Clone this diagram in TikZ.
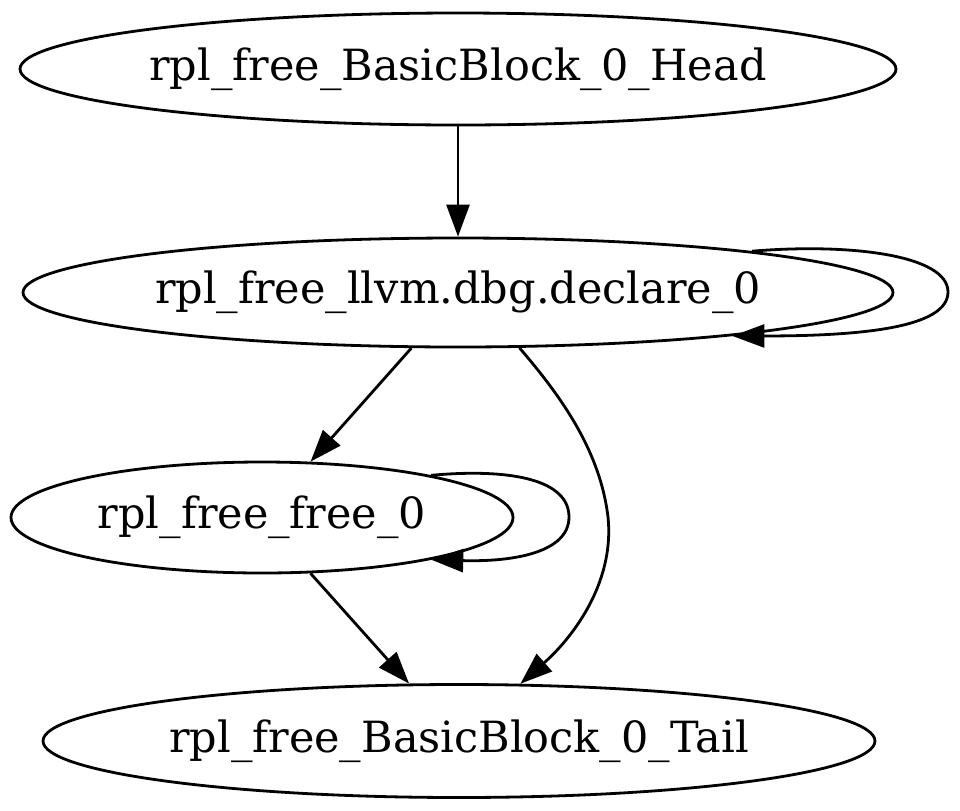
\documentclass[tikz,border=0pt]{standalone}
\usepackage{fontspec}
\setmainfont{DejaVu Serif}
\usetikzlibrary{shapes.geometric,arrows.meta}
\tikzset{
  gnode/.style={draw, ellipse, line width=1.4pt, inner sep=0pt, font=\fontsize{21.5pt}{26pt}\selectfont},
  gedge/.style={line width=1.4pt, -{Triangle[length=16pt,width=11.5pt]}}
}
\begin{document}
\begin{tikzpicture}[x=0.5pt,y=-0.5pt]
\useasboundingbox (0,0) rectangle (960,810);
\node[gnode, minimum width=438pt, minimum height=56pt] (head) at (458,69) {rpl\_free\_BasicBlock\_0\_Head};
\node[gnode, minimum width=435pt, minimum height=54.5pt] (decl) at (458,292.5) {rpl\_free\_llvm.dbg.declare\_0};
\node[gnode, minimum width=251pt, minimum height=55.5pt] (free) at (262,517.5) {rpl\_free\_free\_0};
\node[gnode, minimum width=416pt, minimum height=56.5pt] (tail) at (459,741) {rpl\_free\_BasicBlock\_0\_Tail};
\draw[gedge] (head.south) -- (decl.north);
\draw[gedge] (decl.8.4) .. controls (850,243) and (948,255) .. (948,292) .. controls (948,328) and (860,336) .. (decl.351.6);
\draw[gedge] (decl.230.8) -- (free.49.3);
\draw[gedge] (decl.318.1) .. controls (560,395) and (600,450) .. (608,517) .. controls (615,585) and (570,640) .. (tail.43.5);
\draw[gedge] (free.14.6) .. controls (512,468) and (569,480) .. (569,517) .. controls (569,553) and (512,562) .. (free.346.5);
\draw[gedge] (free.311.4) -- (tail.131.1);
\end{tikzpicture}
\end{document}
